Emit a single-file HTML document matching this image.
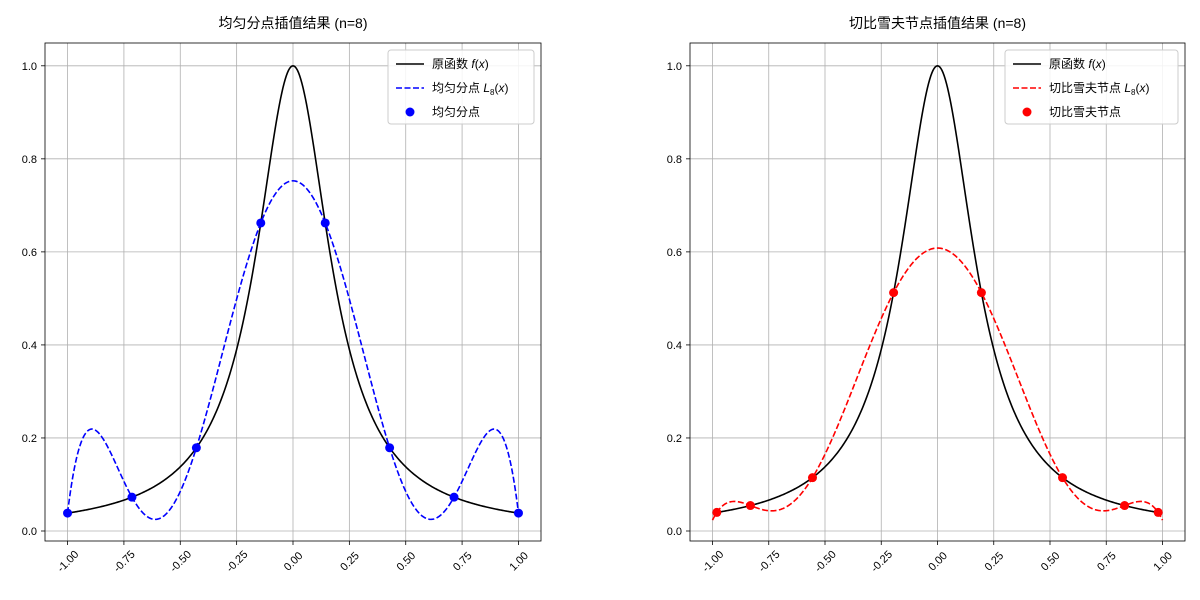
<!DOCTYPE html>
<html><head><meta charset="utf-8">
<style>
body{margin:0;background:#fff;}
svg{display:block;font-family:"Liberation Sans","Noto Sans CJK SC",sans-serif;}
</style></head>
<body>
<svg id="c" width="1200" height="600" xmlns="http://www.w3.org/2000/svg"></svg>
<script>
const xTicks = [-1.00,-0.75,-0.50,-0.25,0.00,0.25,0.50,0.75,1.00];
const xTickLabels = ["-1.00","-0.75","-0.50","-0.25","0.00","0.25","0.50","0.75","1.00"];
const yTicks = [0,0.2,0.4,0.6,0.8,1.0];
const yTickLabels = ["0.0","0.2","0.4","0.6","0.8","1.0"];
const uniformX = [-1,-0.7143,-0.4286,-0.1429,0.1429,0.4286,0.7143,1];
const uniformY = [0.0385,0.0727,0.1789,0.6622,0.6622,0.1789,0.0727,0.0385];
const chebX = [-0.9808,-0.8315,-0.5556,-0.1951,0.1951,0.5556,0.8315,0.9808];
const chebY = [0.0399,0.0547,0.1147,0.5124,0.5124,0.1147,0.0547,0.0399];

const NS="http://www.w3.org/2000/svg";
const svg=document.getElementById('c');
function mk(tag,attrs,parent){const e=document.createElementNS(NS,tag);for(const k in attrs)e.setAttribute(k,attrs[k]);(parent||svg).appendChild(e);return e;}
function runge(x){return 1/(1+25*x*x);}
function lag(xs,ys,x){let s=0;for(let i=0;i<xs.length;i++){let p=ys[i];for(let j=0;j<xs.length;j++)if(j!==i)p*=(x-xs[j])/(xs[i]-xs[j]);s+=p;}return s;}

function panel(L,R,title,nx,ny,color,legLabel,ptLabel,prefix,legX,legW){
  const T=43,B=541;
  const sx=v=>L+(v+1.1)/2.2*(R-L);
  const sy=v=>B-(v+0.0215)/(1.049+0.0215)*(B-T);
  const g=mk('g',{});
  
  
  xTicks.forEach((t,i)=>{
    const gl=mk('line',{x1:sx(t),x2:sx(t),y1:T,y2:B,stroke:'#b0b0b0','stroke-width':0.8},g);
    
    mk('line',{x1:sx(t),x2:sx(t),y1:B,y2:B+4,stroke:'#000','stroke-width':0.8},g);
    const cx=sx(t),cy=B+20;
    const tx=mk('text',{x:cx,y:cy+4,'font-size':11,'text-anchor':'middle',transform:`rotate(-45 ${cx} ${cy})`},g);
    tx.textContent=xTickLabels[i];
    
  });
  yTicks.forEach((t,i)=>{
    const gl=mk('line',{x1:L,x2:R,y1:sy(t),y2:sy(t),stroke:'#b0b0b0','stroke-width':0.8},g);
    
    mk('line',{x1:L-4,x2:L,y1:sy(t),y2:sy(t),stroke:'#000','stroke-width':0.8},g);
    const tx=mk('text',{x:L-8,y:sy(t)+4,'font-size':11,'text-anchor':'end'},g);
    tx.textContent=yTickLabels[i];
    
  });
  let d1='',d2='';
  for(let k=0;k<=400;k++){const x=-1+2*k/400;d1+=(k?'L':'M')+sx(x).toFixed(2)+','+sy(runge(x)).toFixed(2);d2+=(k?'L':'M')+sx(x).toFixed(2)+','+sy(lag(nx,ny,x)).toFixed(2);}
  const p1=mk('path',{d:d1,fill:'none',stroke:'#000','stroke-width':1.6},g);
  
  const p2=mk('path',{d:d2,fill:'none',stroke:color,'stroke-width':1.6,'stroke-dasharray':'6,2.5'},g);
  
  nx.forEach((x,i)=>{const c=mk('circle',{cx:sx(x),cy:sy(ny[i]),r:4.5,fill:color},g);
    });
  mk('rect',{x:L,y:T,width:R-L,height:B-T,fill:'none',stroke:'#000','stroke-width':0.8},g);
  const tt=mk('text',{x:(L+R)/2,y:28,'font-size':14,'text-anchor':'middle'},g);
  tt.textContent=title;
  const lg=mk('g',{},g);
  
  mk('rect',{x:legX,y:50,width:legW,height:74,rx:3,fill:'#fff','fill-opacity':0.85,stroke:'#ccc'},lg);
  const ys=[64,88,112];
  mk('line',{x1:legX+8,x2:legX+36,y1:ys[0],y2:ys[0],stroke:'#000','stroke-width':1.6},lg);
  mk('line',{x1:legX+8,x2:legX+36,y1:ys[1],y2:ys[1],stroke:color,'stroke-width':1.6,'stroke-dasharray':'6,2.5'},lg);
  mk('circle',{cx:legX+22,cy:ys[2],r:4.5,fill:color},lg);
  const t1=mk('text',{x:legX+44,y:ys[0]+4,'font-size':12},lg);
  t1.innerHTML='原函数 <tspan font-style="italic">f</tspan>(<tspan font-style="italic">x</tspan>)';
  
  const t2=mk('text',{x:legX+44,y:ys[1]+4,'font-size':12},lg);
  t2.innerHTML=legLabel+' <tspan font-style="italic">L</tspan><tspan font-size="8" dy="3">8</tspan><tspan dy="-3">(</tspan><tspan font-style="italic">x</tspan>)';
  
  const t3=mk('text',{x:legX+44,y:ys[2]+4,'font-size':12},lg);
  t3.textContent=ptLabel;
  
}
panel(45,541,'均匀分点插值结果 (n=8)',uniformX,uniformY,'#0000ff','均匀分点','均匀分点','uniform',388,146);
panel(690,1185,'切比雪夫节点插值结果 (n=8)',chebX,chebY,'#ff0000','切比雪夫节点','切比雪夫节点','chebyshev',1005,173);
</script>
</body></html>
